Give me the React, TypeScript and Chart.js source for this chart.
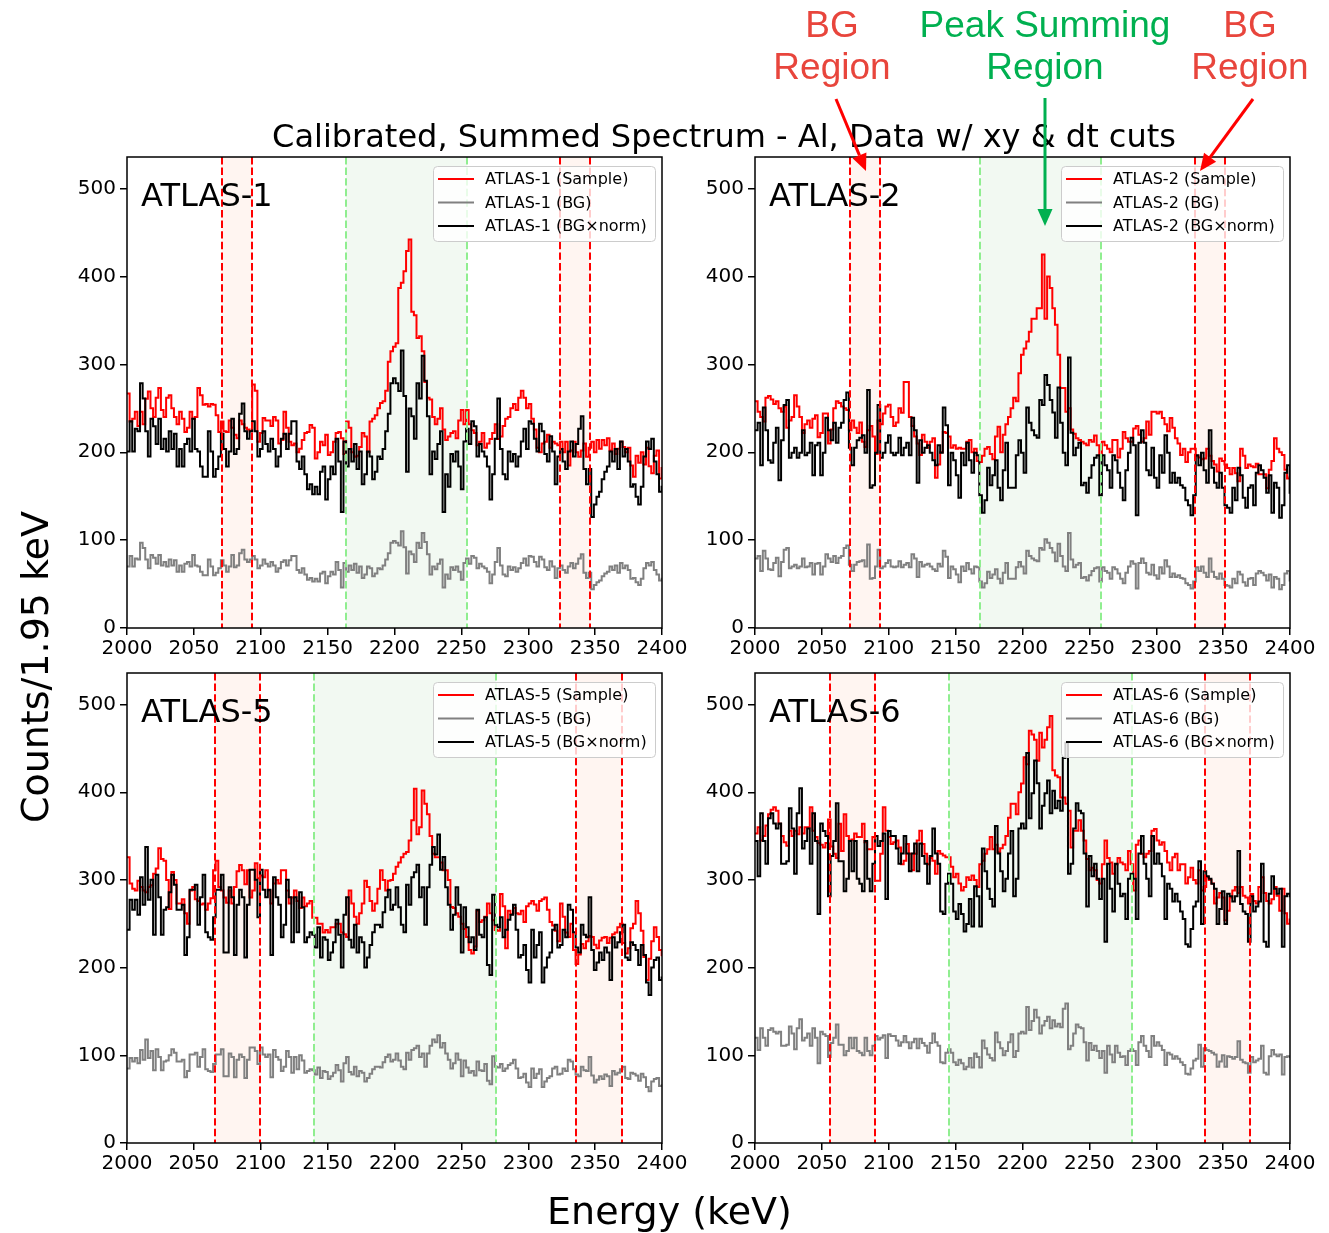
import React, { useEffect, useRef } from "react";
import { Chart, registerables } from "chart.js";

Chart.register(...registerables);

// Histogram binning shared by every detector
const BIN_START_KEV = 2000;
const BIN_WIDTH_KEV = 1.95;
const X_TICKS = [2000, 2050, 2100, 2150, 2200, 2250, 2300, 2350, 2400];
const Y_TICKS = [0, 100, 200, 300, 400, 500];
const X_MIN = 2000;
const X_MAX = 2400;
const Y_MAX = 536;

// ATLAS-1 counts per bin
const ATLAS1_SAMPLE = [
  267, 235, 238, 246, 230, 246, 232, 261, 269, 250,
  240, 262, 273, 248, 240, 262, 265, 250, 240, 232,
  246, 238, 223, 228, 246, 238, 240, 273, 265, 254,
  255, 252, 255, 254, 242, 223, 235, 224, 223, 236,
  228, 220, 216, 236, 232, 228, 226, 224, 277, 270,
  212, 222, 239, 236, 236, 230, 240, 236, 210, 214,
  246, 228, 212, 208, 210, 200, 204, 214, 222, 223,
  231, 228, 193, 200, 212, 208, 220, 197, 200, 212,
  222, 223, 216, 198, 235, 228, 200, 195, 196, 206,
  222, 218, 200, 235, 238, 242, 250, 256, 258, 270,
  303, 315, 320, 324, 387, 393, 406, 429, 442, 360,
  356, 330, 332, 315, 280, 262, 260, 240, 232, 238,
  250, 226, 214, 218, 222, 224, 216, 236, 248, 232,
  248, 232, 225, 222, 208, 212, 222, 205, 210, 215,
  222, 232, 215, 218, 230, 238, 240, 250, 255, 248,
  262, 270, 262, 250, 255, 238, 226, 205, 200, 210,
  212, 220, 205, 212, 210, 208, 212, 200, 212, 185,
  202, 212, 200, 195, 202, 210, 195, 205, 212, 200,
  214, 204, 214, 208, 216, 202, 210, 198, 204, 212,
  206, 200, 205, 185, 172, 196, 188, 200, 186, 205,
  184, 176, 196, 202, 170, 182,
];
const ATLAS1_BG = [
  70, 82, 70, 79, 78, 97, 91, 78, 68, 83,
  80, 73, 83, 71, 75, 70, 78, 71, 77, 64,
  71, 64, 73, 75, 70, 83, 71, 70, 64, 60,
  60, 78, 70, 60, 63, 68, 77, 71, 64, 70,
  83, 69, 71, 85, 89, 78, 75, 78, 82, 78,
  68, 71, 78, 73, 70, 75, 71, 64, 68, 75,
  77, 71, 77, 82, 82, 66, 63, 68, 61, 55,
  57, 53, 56, 53, 62, 64, 51, 59, 64, 61,
  75, 66, 46, 74, 64, 71, 66, 73, 63, 70,
  57, 61, 70, 68, 59, 62, 68, 67, 71, 78,
  85, 97, 99, 97, 94, 110, 92, 62, 87, 84,
  75, 97, 91, 108, 98, 84, 61, 70, 67, 73,
  78, 46, 61, 56, 69, 66, 70, 64, 55, 74,
  79, 73, 82, 80, 68, 73, 70, 68, 64, 51,
  61, 75, 91, 71, 61, 59, 70, 66, 69, 64,
  68, 74, 79, 71, 82, 81, 75, 70, 81, 78,
  69, 66, 76, 70, 57, 68, 71, 66, 63, 70,
  74, 68, 73, 79, 84, 63, 57, 63, 44, 49,
  52, 54, 59, 62, 64, 70, 66, 71, 63, 74,
  68, 71, 66, 56, 57, 52, 49, 56, 68, 74,
  71, 75, 66, 61, 54, 56,
];
const ATLAS1_NORM = 2.87;
const ATLAS1_WINDOWS = [2070.8, 2093.7, 2163.7, 2254.0, 2323.7, 2346.2];

// ATLAS-2 counts per bin
const ATLAS2_SAMPLE = [
  258, 246, 240, 235, 262, 264, 260, 255, 258, 250,
  246, 252, 228, 236, 240, 265, 252, 240, 222, 232,
  236, 228, 238, 242, 217, 222, 244, 244, 210, 226,
  250, 258, 256, 252, 250, 248, 225, 236, 228, 222,
  234, 212, 206, 225, 230, 218, 198, 236, 232, 244,
  252, 254, 240, 230, 234, 250, 245, 280, 280, 240,
  230, 218, 210, 197, 220, 212, 205, 212, 216, 171,
  186, 200, 223, 222, 218, 205, 208, 204, 205, 204,
  204, 212, 214, 200, 204, 190, 189, 196, 204, 206,
  198, 192, 218, 229, 200, 220, 232, 240, 250, 262,
  258, 290, 311, 318, 326, 337, 352, 352, 364, 364,
  425, 352, 400, 387, 364, 345, 311, 273, 273, 246,
  250, 226, 221, 216, 214, 212, 210, 208, 214, 212,
  219, 208, 196, 212, 208, 204, 200, 214, 214, 194,
  204, 223, 216, 212, 212, 227, 230, 220, 212, 216,
  235, 220, 246, 246, 244, 246, 239, 232, 224, 239,
  228, 216, 210, 197, 204, 189, 200, 204, 204, 196,
  194, 192, 193, 204, 196, 190, 186, 178, 193, 190,
  186, 182, 175, 182, 176, 167, 204, 196, 182, 186,
  184, 183, 187, 175, 175, 175, 159, 180, 190, 216,
  204, 200, 197, 180, 170, 172,
];
const ATLAS2_BG = [
  79, 82, 65, 88, 79, 67, 66, 74, 80, 59,
  75, 89, 91, 68, 70, 72, 68, 70, 79, 69,
  70, 74, 61, 73, 74, 61, 70, 84, 79, 75,
  82, 74, 80, 82, 91, 94, 72, 65, 72, 75,
  76, 77, 70, 95, 56, 57, 70, 89, 68, 70,
  74, 77, 70, 69, 70, 76, 69, 72, 74, 69,
  84, 79, 58, 75, 70, 72, 73, 70, 67, 65,
  73, 70, 88, 81, 57, 70, 67, 61, 52, 70,
  65, 74, 67, 62, 70, 69, 53, 46, 51, 64,
  57, 61, 67, 56, 51, 63, 74, 56, 56, 56,
  69, 75, 70, 62, 88, 82, 79, 77, 76, 91,
  89, 101, 97, 91, 86, 76, 96, 82, 70, 65,
  108, 78, 69, 72, 74, 57, 58, 54, 60, 65,
  68, 69, 53, 69, 65, 63, 56, 69, 67, 62,
  56, 51, 63, 70, 76, 73, 45, 74, 79, 74,
  63, 61, 72, 60, 56, 69, 62, 77, 70, 58,
  62, 58, 60, 57, 56, 51, 49, 45, 53, 69,
  65, 70, 63, 58, 79, 64, 58, 56, 62, 56,
  49, 48, 46, 56, 51, 64, 61, 52, 48, 56,
  57, 49, 62, 65, 63, 60, 54, 61, 46, 58,
  56, 44, 49, 62, 65, 54,
];
const ATLAS2_NORM = 2.85;
const ATLAS2_WINDOWS = [2070.8, 2093.7, 2168.5, 2258.4, 2328.7, 2351.2];

// ATLAS-5 counts per bin
const ATLAS5_SAMPLE = [
  326, 296, 290, 288, 299, 292, 288, 286, 292, 294,
  307, 313, 336, 324, 322, 300, 267, 309, 300, 273,
  273, 278, 262, 250, 288, 292, 278, 276, 272, 273,
  266, 273, 279, 311, 322, 292, 288, 280, 274, 288,
  273, 292, 310, 317, 311, 295, 311, 280, 288, 319,
  302, 305, 303, 311, 288, 273, 296, 300, 296, 311,
  311, 288, 273, 280, 288, 276, 268, 280, 270, 273,
  276, 257, 257, 250, 250, 240, 243, 240, 246, 246,
  250, 250, 240, 238, 235, 288, 273, 258, 250, 262,
  273, 299, 292, 276, 265, 273, 290, 311, 300, 288,
  299, 300, 307, 315, 320, 326, 330, 332, 345, 368,
  404, 352, 360, 402, 387, 375, 350, 330, 326, 326,
  320, 311, 311, 300, 269, 268, 262, 258, 250, 244,
  235, 220, 216, 224, 265, 252, 254, 258, 273, 262,
  254, 243, 242, 284, 270, 222, 265, 261, 268, 262,
  261, 265, 252, 270, 273, 276, 272, 265, 276, 278,
  280, 266, 252, 248, 242, 230, 273, 258, 240, 235,
  250, 220, 204, 215, 227, 222, 230, 236, 235, 226,
  222, 231, 234, 235, 228, 234, 238, 240, 246, 250,
  228, 216, 222, 245, 250, 276, 262, 242, 212, 186,
  210, 230, 246, 235, 220, 214,
];
const ATLAS5_BG = [
  85, 97, 93, 97, 91, 106, 95, 118, 97, 105,
  83, 107, 98, 83, 93, 94, 100, 107, 103, 93,
  93, 95, 75, 82, 101, 101, 103, 87, 98, 107,
  84, 82, 81, 90, 101, 101, 107, 76, 76, 102,
  98, 75, 95, 101, 98, 74, 95, 109, 109, 105,
  90, 109, 101, 98, 101, 75, 106, 98, 95, 82,
  87, 105, 98, 80, 98, 84, 100, 94, 80, 82,
  84, 83, 78, 86, 74, 82, 81, 73, 76, 80,
  89, 83, 70, 91, 98, 81, 78, 87, 76, 82,
  80, 70, 74, 79, 84, 87, 87, 86, 92, 98,
  101, 93, 95, 102, 94, 87, 84, 103, 95, 106,
  108, 111, 98, 102, 87, 102, 111, 118, 115, 123,
  109, 114, 102, 95, 85, 91, 102, 95, 76, 94,
  86, 80, 82, 77, 93, 83, 82, 90, 71, 67,
  99, 87, 86, 90, 82, 85, 89, 91, 95, 85,
  74, 75, 79, 69, 64, 85, 74, 79, 84, 64,
  70, 74, 76, 85, 87, 78, 79, 85, 82, 95,
  93, 84, 78, 76, 87, 83, 82, 98, 77, 69,
  72, 76, 73, 78, 76, 65, 82, 78, 80, 84,
  87, 74, 73, 80, 79, 77, 71, 79, 75, 64,
  59, 70, 73, 74, 65, 66,
];
const ATLAS5_NORM = 2.86;
const ATLAS5_WINDOWS = [2065.6, 2099.2, 2139.8, 2275.9, 2335.7, 2370.1];

// ATLAS-6 counts per bin
const ATLAS6_SAMPLE = [
  353, 360, 345, 350, 362, 375, 380, 383, 379, 364,
  350, 343, 339, 356, 350, 356, 352, 360, 353, 360,
  360, 383, 356, 349, 342, 340, 337, 342, 369, 338,
  330, 325, 364, 333, 375, 350, 345, 346, 353, 349,
  349, 364, 343, 335, 335, 349, 299, 299, 330, 383,
  356, 349, 341, 343, 345, 337, 318, 322, 341, 330,
  311, 330, 345, 356, 341, 330, 318, 325, 322, 307,
  333, 330, 328, 326, 326, 315, 303, 307, 296, 288,
  292, 303, 300, 305, 300, 292, 318, 322, 330, 335,
  349, 335, 340, 332, 336, 340, 350, 371, 387, 387,
  375, 400, 410, 440, 432, 470, 466, 460, 436, 468,
  451, 460, 474, 487, 425, 419, 417, 394, 394, 387,
  379, 337, 356, 356, 368, 356, 345, 324, 311, 314,
  311, 300, 296, 318, 345, 325, 320, 307, 318, 325,
  320, 318, 311, 333, 318, 288, 340, 345, 330, 326,
  330, 333, 356, 358, 345, 340, 343, 333, 320, 311,
  326, 330, 311, 318, 318, 296, 303, 314, 300, 296,
  311, 288, 292, 303, 300, 296, 273, 280, 285, 280,
  254, 265, 280, 288, 292, 285, 292, 282, 280, 273,
  284, 276, 273, 292, 303, 285, 276, 273, 278, 292,
  282, 265, 290, 262, 250, 255,
];
const ATLAS6_BG = [
  120, 106, 131, 120, 111, 129, 131, 127, 125, 127,
  111, 111, 112, 133, 125, 107, 131, 141, 117, 120,
  125, 111, 131, 120, 91, 127, 124, 122, 98, 114,
  120, 135, 112, 112, 100, 105, 120, 108, 120, 105,
  103, 100, 120, 105, 100, 111, 122, 118, 120, 123,
  97, 124, 122, 122, 117, 111, 115, 122, 115, 108,
  115, 119, 108, 119, 114, 111, 103, 114, 125, 115,
  111, 92, 91, 103, 107, 103, 92, 89, 95, 91,
  84, 87, 97, 86, 102, 98, 86, 117, 108, 101,
  97, 94, 126, 115, 108, 100, 105, 115, 124, 98,
  105, 125, 127, 125, 155, 129, 139, 152, 143, 125,
  134, 139, 144, 131, 140, 133, 136, 132, 153, 159,
  107, 111, 125, 135, 132, 131, 115, 94, 114, 106,
  111, 105, 97, 105, 80, 111, 101, 92, 111, 103,
  98, 99, 89, 105, 107, 105, 89, 115, 122, 111,
  105, 98, 122, 111, 115, 111, 106, 89, 103, 101,
  96, 99, 96, 92, 89, 79, 78, 85, 94, 96,
  112, 87, 108, 106, 105, 103, 101, 87, 93, 100,
  87, 99, 98, 96, 98, 116, 95, 92, 91, 80,
  98, 92, 94, 96, 111, 80, 78, 99, 106, 101,
  99, 101, 78, 98, 99, 98,
];
const ATLAS6_NORM = 2.87;
const ATLAS6_WINDOWS = [2056.1, 2090.0, 2145.3, 2281.6, 2336.4, 2370.3];

// Figure geometry (axes boxes in page pixels)
const FIG_W = 1329;
const FIG_H = 1233;
const PAD_L = 70;
const PAD_R = 35;
const PAD_T = 10;
const PAD_B = 50;

const PANELS = [
  { name: "ATLAS-1", sample: ATLAS1_SAMPLE, bg: ATLAS1_BG, norm: ATLAS1_NORM, windows: ATLAS1_WINDOWS, box: { left: 127, top: 157, width: 535, height: 471 } },
  { name: "ATLAS-2", sample: ATLAS2_SAMPLE, bg: ATLAS2_BG, norm: ATLAS2_NORM, windows: ATLAS2_WINDOWS, box: { left: 755, top: 157, width: 535, height: 471 } },
  { name: "ATLAS-5", sample: ATLAS5_SAMPLE, bg: ATLAS5_BG, norm: ATLAS5_NORM, windows: ATLAS5_WINDOWS, box: { left: 127, top: 673, width: 535, height: 470 } },
  { name: "ATLAS-6", sample: ATLAS6_SAMPLE, bg: ATLAS6_BG, norm: ATLAS6_NORM, windows: ATLAS6_WINDOWS, box: { left: 755, top: 673, width: 535, height: 470 } },
];

const COLOR_SAMPLE = "#ff0000";
const COLOR_BG = "#808080";
const COLOR_BGNORM = "#000000";
const FILL_BG_WINDOW = "rgba(255, 127, 80, 0.08)";
const FILL_PEAK_WINDOW = "rgba(0, 128, 0, 0.05)";
const FONT = "DejaVu Sans";

type Panel = (typeof PANELS)[number];

// Step histogram: one point per left bin edge plus the closing right edge
function stepPoints(values: number[], scale: number) {
  const pts = values.map((v, i) => ({ x: BIN_START_KEV + i * BIN_WIDTH_KEV, y: v * scale }));
  pts.push({ x: BIN_START_KEV + values.length * BIN_WIDTH_KEV, y: values[values.length - 1] * scale });
  return pts;
}

const panelDecor = {
  id: "panelDecor",
  beforeDatasetsDraw(chart: any, _args: any, opts: any) {
    const { ctx, chartArea: a } = chart;
    const x = chart.scales.x;
    const w: number[] = opts.windows;
    ctx.save();
    const span = (lo: number, hi: number, color: string) => {
      const x0 = x.getPixelForValue(lo);
      const x1 = x.getPixelForValue(hi);
      ctx.fillStyle = color;
      ctx.fillRect(x0, a.top, x1 - x0, a.bottom - a.top);
    };
    span(w[0], w[1], FILL_BG_WINDOW);
    span(w[4], w[5], FILL_BG_WINDOW);
    span(w[2], w[3], FILL_PEAK_WINDOW);
    ctx.restore();
  },
  afterDatasetsDraw(chart: any, _args: any, opts: any) {
    const { ctx, chartArea: a } = chart;
    const x = chart.scales.x;
    const w: number[] = opts.windows;
    ctx.save();
    // window edges
    ctx.lineWidth = 2;
    ctx.setLineDash([7.4, 3.2]);
    w.forEach((e, i) => {
      const px = Math.round(x.getPixelForValue(e));
      ctx.strokeStyle = i === 2 || i === 3 ? "#90ee90" : "#ff0000";
      ctx.beginPath();
      ctx.moveTo(px, a.top);
      ctx.lineTo(px, a.bottom);
      ctx.stroke();
    });
    ctx.setLineDash([]);

    // axes frame
    ctx.strokeStyle = "#000";
    ctx.lineWidth = 1.5;
    ctx.strokeRect(a.left, a.top, a.right - a.left, a.bottom - a.top);

    // detector name
    ctx.fillStyle = "#000";
    ctx.font = `32px "${FONT}"`;
    ctx.textBaseline = "alphabetic";
    ctx.textAlign = "left";
    ctx.fillText(opts.name, a.left + 14, a.top + 48.7);

    // legend
    const bw = 222;
    const bh = 75;
    const bx = a.right - 229;
    const by = a.top + 9;
    ctx.beginPath();
    if (ctx.roundRect) ctx.roundRect(bx + 0.5, by + 0.5, bw, bh, 4);
    else ctx.rect(bx + 0.5, by + 0.5, bw, bh);
    ctx.fillStyle = "rgba(255,255,255,0.8)";
    ctx.fill();
    ctx.strokeStyle = "#cccccc";
    ctx.lineWidth = 1;
    ctx.stroke();
    const entries = [
      [COLOR_SAMPLE, `${opts.name} (Sample)`],
      [COLOR_BG, `${opts.name} (BG)`],
      [COLOR_BGNORM, `${opts.name} (BG\u00d7norm)`],
    ];
    ctx.font = `16px "${FONT}"`;
    ctx.textBaseline = "middle";
    entries.forEach(([color, label], i) => {
      const y = by + 13 + i * 23.5;
      ctx.strokeStyle = color;
      ctx.lineWidth = 2;
      ctx.beginPath();
      ctx.moveTo(bx + 5, y);
      ctx.lineTo(bx + 41, y);
      ctx.stroke();
      ctx.fillStyle = "#000";
      ctx.fillText(label, bx + 52, y + 1);
    });
    ctx.restore();
  },
};

function SpectrumPanel({ panel }: { panel: Panel }) {
  const ref = useRef<HTMLCanvasElement>(null);
  const { left, top, width, height } = panel.box;
  const cw = width + PAD_L + PAD_R;
  const ch = height + PAD_T + PAD_B;

  useEffect(() => {
    const canvas = ref.current;
    if (!canvas) return;
    const tickFont = { family: FONT, size: 20 };
    const chart = new Chart(canvas, {
      type: "line",
      data: {
        datasets: [
          { label: `${panel.name} (Sample)`, data: stepPoints(panel.sample, 1), borderColor: COLOR_SAMPLE, borderWidth: 2, order: 3 },
          { label: `${panel.name} (BG)`, data: stepPoints(panel.bg, 1), borderColor: COLOR_BG, borderWidth: 2, order: 2 },
          { label: `${panel.name} (BG\u00d7norm)`, data: stepPoints(panel.bg, panel.norm), borderColor: COLOR_BGNORM, borderWidth: 2, order: 1 },
        ].map((d) => ({ ...d, stepped: "before" as const, pointRadius: 0, fill: false, tension: 0 })),
      },
      options: {
        responsive: false,
        animation: false,
        devicePixelRatio: 1,
        events: [],
        layout: { padding: { left: 0, top: PAD_T, right: PAD_R, bottom: 0 } },
        plugins: {
          legend: { display: false },
          tooltip: { enabled: false },
          title: { display: false },
          panelDecor: { windows: panel.windows, name: panel.name },
        } as any,
        scales: {
          x: {
            type: "linear",
            min: X_MIN,
            max: X_MAX,
            afterBuildTicks: (scale: any) => {
              scale.ticks = X_TICKS.map((value) => ({ value }));
            },
            afterFit: (scale: any) => {
              scale.height = PAD_B;
              scale.paddingLeft = 0;
              scale.paddingRight = 0;
              scale.paddingTop = 0;
              scale.paddingBottom = 0;
            },
            ticks: {
              font: tickFont,
              color: "#000",
              padding: 2,
              maxRotation: 0,
              autoSkip: false,
              callback: (v: any) => `${v}`,
            },
            grid: { display: true, drawOnChartArea: false, drawTicks: true, tickLength: 7, color: "#000", lineWidth: 1.5 },
            border: { display: false },
          },
          y: {
            type: "linear",
            min: 0,
            max: Y_MAX,
            afterBuildTicks: (scale: any) => {
              scale.ticks = Y_TICKS.map((value) => ({ value }));
            },
            afterFit: (scale: any) => {
              scale.width = PAD_L;
              scale.paddingTop = 0;
              scale.paddingBottom = 0;
              scale.paddingLeft = 0;
              scale.paddingRight = 0;
            },
            ticks: {
              font: tickFont,
              color: "#000",
              padding: 4,
              callback: (v: any) => `${v}`,
            },
            grid: { display: true, drawOnChartArea: false, drawTicks: true, tickLength: 7, color: "#000", lineWidth: 1.5 },
            border: { display: false },
          },
        },
      },
      plugins: [panelDecor],
    } as any);
    return () => chart.destroy();
  }, [panel]);

  return (
    <canvas
      ref={ref}
      width={cw}
      height={ch}
      style={{ position: "absolute", left: left - PAD_L, top: top - PAD_T, width: cw, height: ch }}
    />
  );
}

function Arrow({ x1, y1, x2, y2, color }: { x1: number; y1: number; x2: number; y2: number; color: string }) {
  const len = Math.hypot(x2 - x1, y2 - y1);
  const ux = (x2 - x1) / len;
  const uy = (y2 - y1) / len;
  const headLen = 17;
  const headHalf = 7.5;
  const bx = x2 - ux * headLen;
  const by = y2 - uy * headLen;
  const pts = [
    [x2, y2],
    [bx - uy * headHalf, by + ux * headHalf],
    [bx + uy * headHalf, by - ux * headHalf],
  ]
    .map((p) => p.join(","))
    .join(" ");
  return (
    <g>
      <line x1={x1} y1={y1} x2={bx} y2={by} stroke={color} strokeWidth={3} />
      <polygon points={pts} fill={color} />
    </g>
  );
}

const ANNOT_FONT = "Liberation Sans";
const ANNOT_RED = "#e8453c";
const ANNOT_GREEN = "#00b050";

export default function App() {
  return (
    <div
      style={{
        position: "absolute",
        left: 0,
        top: 0,
        width: FIG_W,
        height: FIG_H,
        overflow: "hidden",
        background: "#fff",
      }}
    >
      {PANELS.map((p) => (
        <SpectrumPanel key={p.name} panel={p} />
      ))}
      <svg
        width={FIG_W}
        height={FIG_H}
        style={{ position: "absolute", left: 0, top: 0, pointerEvents: "none" }}
      >
        <text x={724} y={146.5} textAnchor="middle" fontFamily={FONT} fontSize={32} fill="#000">
          Calibrated, Summed Spectrum - Al, Data w/ xy &amp; dt cuts
        </text>
        <text x={669.5} y={1224} textAnchor="middle" fontFamily={FONT} fontSize={38} fill="#000">
          Energy (keV)
        </text>
        <text transform="translate(48,667) rotate(-90)" textAnchor="middle" fontFamily={FONT} fontSize={38} fill="#000">
          Counts/1.95 keV
        </text>

        <g fontFamily={ANNOT_FONT} fontSize={37} textAnchor="middle">
          <text x={832} y={37} fill={ANNOT_RED}>BG</text>
          <text x={832} y={79} fill={ANNOT_RED}>Region</text>
          <text x={1045} y={37} fill={ANNOT_GREEN}>Peak Summing</text>
          <text x={1045} y={79} fill={ANNOT_GREEN}>Region</text>
          <text x={1250} y={37} fill={ANNOT_RED}>BG</text>
          <text x={1250} y={79} fill={ANNOT_RED}>Region</text>
        </g>
        <Arrow x1={836} y1={99} x2={866} y2={171} color="#ff0000" />
        <Arrow x1={1253} y1={99} x2={1200} y2={171} color="#ff0000" />
        <Arrow x1={1045} y1={98} x2={1045} y2={226} color={ANNOT_GREEN} />
      </svg>
    </div>
  );
}
